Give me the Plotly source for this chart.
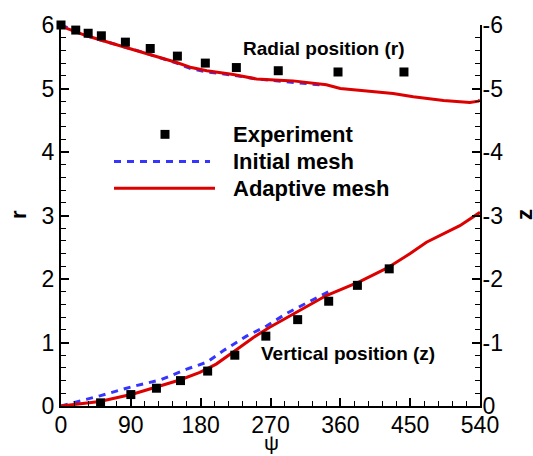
import plotly.graph_objects as go

# ---------------- data ----------------
# Radial position r (left axis)
psi_exp_r = [0, 19, 35, 52, 83, 115, 150, 186, 226, 280, 357, 442]
r_exp = [6.0, 5.92, 5.87, 5.83, 5.73, 5.63, 5.51, 5.40, 5.33, 5.28, 5.26, 5.26]

psi_init_r = [0, 33, 63, 106, 149, 168, 188, 222, 252, 299, 320, 340]
r_init = [6.0, 5.83, 5.72, 5.57, 5.40, 5.31, 5.26, 5.21, 5.15, 5.10, 5.07, 5.05]

psi_adapt_r = [0, 33, 63, 106, 149, 168, 188, 222, 252, 299, 342, 360, 385, 428, 454, 493, 527, 538, 540]
r_adapt = [5.98, 5.83, 5.72, 5.57, 5.41, 5.33, 5.28, 5.22, 5.15, 5.12, 5.06, 5.00, 4.97, 4.92, 4.87, 4.81, 4.78, 4.80, 4.82]

# Vertical position z (right axis, negative values)
psi_exp_z = [51, 90, 123, 154, 189, 224, 264, 305, 345, 382, 423]
z_exp = [-0.05, -0.18, -0.28, -0.40, -0.55, -0.80, -1.10, -1.36, -1.65, -1.90, -2.16]

psi_init_z = [0, 50, 93, 128, 162, 188, 209, 239, 265, 291, 321, 345]
z_init = [0, -0.16, -0.31, -0.41, -0.58, -0.69, -0.87, -1.10, -1.26, -1.46, -1.65, -1.80]

psi_adapt_z = [0, 50, 93, 123, 153, 179, 200, 222, 248, 269, 299, 342, 385, 420, 450, 471, 514, 540]
z_adapt = [0, -0.07, -0.19, -0.30, -0.41, -0.53, -0.66, -0.85, -1.08, -1.24, -1.44, -1.74, -1.96, -2.17, -2.40, -2.58, -2.84, -3.05]

x_ticks = [0, 90, 180, 270, 360, 450, 540]
r_ticks = [0, 1, 2, 3, 4, 5, 6]
z_ticks = [0, -1, -2, -3, -4, -5, -6]
z_ticktext = ["0", "-1", "-2", "-3", "-4", "-5", "-6"]

RED = "#dd0000"
BLUE = "#3535ff"
FONT = "Arial, Liberation Sans, sans-serif"

fig = go.Figure()

# radial
fig.add_trace(go.Scatter(x=psi_init_r, y=r_init, mode="lines", name="Initial mesh",
                         line=dict(color=BLUE, width=3, dash="7px,6px"), showlegend=False))
fig.add_trace(go.Scatter(x=psi_adapt_r, y=r_adapt, mode="lines", name="Adaptive mesh",
                         line=dict(color=RED, width=3), showlegend=False))
fig.add_trace(go.Scatter(x=psi_exp_r, y=r_exp, mode="markers", name="Experiment",
                         marker=dict(symbol="square", size=9, color="black"),
                         cliponaxis=False, showlegend=False))
# vertical
fig.add_trace(go.Scatter(x=psi_init_z, y=z_init, mode="lines", yaxis="y2",
                         line=dict(color=BLUE, width=3, dash="7px,6px"), showlegend=False))
fig.add_trace(go.Scatter(x=psi_adapt_z, y=z_adapt, mode="lines", yaxis="y2",
                         line=dict(color=RED, width=3), showlegend=False))
fig.add_trace(go.Scatter(x=psi_exp_z, y=z_exp, mode="markers", yaxis="y2",
                         marker=dict(symbol="square", size=9, color="black"),
                         cliponaxis=False, showlegend=False))

W, H = 533, 456
ML, MR, MT, MB = 61, 53, 21, 50
PW, PH = W - ML - MR, H - MT - MB


def px(xp):
    return (xp - ML) / PW


def py(yp):
    return (H - MB - yp) / PH


shapes = []
annotations = []
# manual legend
shapes.append(dict(type="rect", xref="paper", yref="paper",
                   x0=px(160.5), x1=px(169.5), y0=py(127), y1=py(136),
                   fillcolor="black", line=dict(width=0)))
shapes.append(dict(type="line", xref="paper", yref="paper",
                   x0=px(114), x1=px(210), y0=py(159), y1=py(159),
                   line=dict(color=BLUE, width=3, dash="7px,6px")))
shapes.append(dict(type="line", xref="paper", yref="paper",
                   x0=px(114), x1=px(215), y0=py(186), y1=py(186),
                   line=dict(color=RED, width=3)))
for label, yy in [("Experiment", 132), ("Initial mesh", 159), ("Adaptive mesh", 186)]:
    annotations.append(dict(xref="paper", yref="paper", x=px(231), y=py(yy),
                            xanchor="left", yanchor="middle", showarrow=False,
                            text="<b>%s</b>" % label,
                            font=dict(family=FONT, size=22, color="black")))

annotations.append(dict(xref="paper", yref="paper", x=px(241), y=py(45),
                        xanchor="left", yanchor="middle", showarrow=False,
                        text="<b>Radial position (r)</b>",
                        font=dict(family=FONT, size=19, color="black")))
annotations.append(dict(xref="paper", yref="paper", x=px(259), y=py(353),
                        xanchor="left", yanchor="middle", showarrow=False,
                        text="<b>Vertical position (z)</b>",
                        font=dict(family=FONT, size=19, color="black")))
# axis titles
annotations.append(dict(xref="paper", yref="paper", x=px(18), y=py(213),
                        xanchor="center", yanchor="middle", showarrow=False,
                        text="<b>r</b>", textangle=-90,
                        font=dict(family=FONT, size=22, color="black")))
annotations.append(dict(xref="paper", yref="paper", x=px(524), y=py(213),
                        xanchor="center", yanchor="middle", showarrow=False,
                        text="<b>z</b>", textangle=-90,
                        font=dict(family=FONT, size=22, color="black")))
annotations.append(dict(xref="paper", yref="paper", x=px(271), y=py(443),
                        xanchor="center", yanchor="middle", showarrow=False,
                        text="ψ",
                        font=dict(family=FONT, size=21, color="black")))

axis_common = dict(showgrid=False, zeroline=False, showline=True, linecolor="black",
                   linewidth=2, ticks="inside", ticklen=8, tickwidth=1.5, tickcolor="black",
                   tickfont=dict(family=FONT, size=23, color="black"), mirror=False)

fig.update_layout(
    width=W, height=H,
    margin=dict(l=ML, r=MR, t=MT, b=MB, pad=0),
    paper_bgcolor="white", plot_bgcolor="white",
    showlegend=False,
    xaxis=dict(range=[0, 540], tickvals=x_ticks, ticklabelstandoff=-3,
               minor=dict(dtick=18, tick0=0, ticks="inside", ticklen=5, tickwidth=1, tickcolor="black"),
               **axis_common),
    yaxis=dict(range=[0, 6], tickvals=r_ticks,
               minor=dict(dtick=0.2, tick0=0, ticks="inside", ticklen=5, tickwidth=1, tickcolor="black"),
               **axis_common),
    yaxis2=dict(range=[0, -6], overlaying="y", side="right", anchor="x",
                tickvals=z_ticks, ticktext=z_ticktext, ticklabelstandoff=-4,
                minor=dict(dtick=0.2, tick0=0, ticks="inside", ticklen=5, tickwidth=1, tickcolor="black"),
                **axis_common),
    shapes=shapes,
    annotations=annotations,
)

fig.write_html("out.html", config={"displayModeBar": False},
               post_script="document.body.style.margin='0';")
